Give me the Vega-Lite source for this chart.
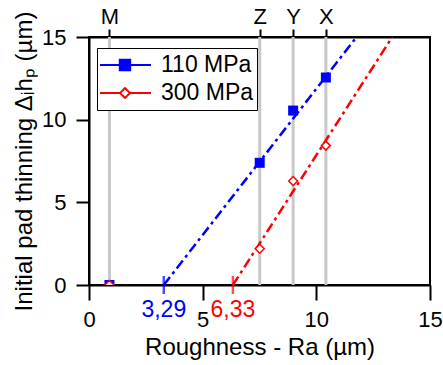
{
  "$schema": "https://vega.github.io/schema/vega-lite/v6.json",
  "width": 341,
  "height": 248,
  "autosize": {"type": "none"},
  "padding": {"left": 89, "top": 37, "right": 13, "bottom": 80},
  "background": "white",
  "config": {
    "font": "Liberation Sans",
    "view": {"stroke": "black", "strokeWidth": 2},
    "axis": {
      "grid": false,
      "domainColor": "black",
      "domainWidth": 2,
      "tickColor": "black",
      "tickWidth": 2,
      "labelColor": "black",
      "titleColor": "black",
      "labelFont": "Liberation Sans",
      "titleFont": "Liberation Sans",
      "labelFontSize": 22,
      "titleFontSize": 24,
      "titleFontWeight": "normal",
      "labelFlush": false,
      "labelOverlap": false
    }
  },
  "datasets": {
    "samples": [
      {"sample": "M", "x": 0.9},
      {"sample": "Z", "x": 7.51},
      {"sample": "Y", "x": 8.98},
      {"sample": "X", "x": 10.42}
    ],
    "lines": [
      {"series": "110 MPa", "x": 3.29, "y": 0},
      {"series": "110 MPa", "x": 11.77, "y": 15},
      {"series": "300 MPa", "x": 6.33, "y": 0},
      {"series": "300 MPa", "x": 13.34, "y": 15}
    ],
    "points": [
      {"series": "110 MPa", "x": 0.9, "y": 0},
      {"series": "110 MPa", "x": 7.51, "y": 7.39},
      {"series": "110 MPa", "x": 8.98, "y": 10.55},
      {"series": "110 MPa", "x": 10.42, "y": 12.55},
      {"series": "300 MPa", "x": 0.9, "y": 0},
      {"series": "300 MPa", "x": 7.51, "y": 2.19},
      {"series": "300 MPa", "x": 8.98, "y": 6.29},
      {"series": "300 MPa", "x": 10.42, "y": 8.43}
    ],
    "markers": [
      {"series": "110 MPa", "x": 3.29, "label": "3,29"},
      {"series": "300 MPa", "x": 6.33, "label": "6,33"}
    ]
  },
  "layer": [
    {
      "data": {"name": "samples"},
      "mark": {"type": "rule", "color": "#c8c8c8", "strokeWidth": 3},
      "encoding": {
        "x": {
          "field": "x",
          "type": "quantitative",
          "scale": {"domain": [0, 15], "nice": false},
          "axis": {
            "orient": "top",
            "values": [0.9, 7.51, 8.98, 10.42],
            "labelExpr": "datum.value == 0.9 ? 'M' : datum.value == 7.51 ? 'Z' : datum.value == 8.98 ? 'Y' : 'X'",
            "tickSize": 8,
            "labelPadding": 6,
            "labelFontSize": 22,
            "labelBaseline": "alphabetic",
            "title": null
          }
        }
      }
    },
    {
      "data": {"name": "lines"},
      "mark": {"type": "line", "strokeWidth": 2.5, "strokeDash": [10, 4, 3, 4], "clip": true},
      "encoding": {
        "x": {
          "field": "x",
          "type": "quantitative",
          "scale": {"domain": [0, 15], "nice": false},
          "axis": {
            "values": [0, 5, 10, 15],
            "tickSize": 15,
            "labelPadding": 26,
            "labelFontSize": 22,
            "labelBaseline": "alphabetic",
            "title": "Roughness - Ra (µm)",
            "titleY": 69,
            "titleBaseline": "alphabetic"
          }
        },
        "y": {
          "field": "y",
          "type": "quantitative",
          "scale": {"domain": [0, 15], "nice": false},
          "axis": {
            "values": [0, 5, 10, 15],
            "tickSize": 13,
            "labelPadding": 10,
            "labelFontSize": 22,
            "title": "Initial pad thinning Δᵢhₚ (µm)",
            "titleX": -58,
            "titleBaseline": "alphabetic"
          }
        },
        "color": {
          "field": "series",
          "type": "nominal",
          "scale": {"domain": ["110 MPa", "300 MPa"], "range": ["#0000ff", "#ff0000"]},
          "legend": {
            "orient": "none",
            "legendX": 8,
            "legendY": 11,
            "title": null,
            "padding": 3,
            "rowPadding": 0,
            "clipHeight": 28,
            "symbolSize": 2704,
            "symbolOffset": -2,
            "labelOffset": 9,
            "labelFontSize": 23,
            "labelFont": "Liberation Sans",
            "labelColor": "black",
            "strokeColor": "black",
            "fillColor": "white",
            "encode": {
              "symbols": {
                "update": {
                  "shape": {"signal": "datum.value == '110 MPa' ? 'M-1,0H1M-0.2,-0.2H0.2V0.2H-0.2Z' : 'M-1,0H-0.19M-0.19,0L0,-0.19L0.19,0L0,0.19ZM0.19,0H1'"},
                  "fill": {"signal": "datum.value == '110 MPa' ? '#0000ff' : '#ffffff'"},
                  "stroke": {"signal": "datum.value == '110 MPa' ? '#0000ff' : '#ff0000'"},
                  "strokeWidth": {"value": 2},
                  "strokeDash": {"value": [1, 0]},
                  "opacity": {"value": 1}
                }
              }
            }
          }
        }
      }
    },
    {
      "data": {"name": "points"},
      "transform": [{"filter": "datum.series == '110 MPa'"}],
      "mark": {"type": "point", "shape": "square", "filled": true, "color": "#0000ff", "size": 100, "opacity": 1, "clip": true},
      "encoding": {
        "x": {"field": "x", "type": "quantitative", "axis": null},
        "y": {"field": "y", "type": "quantitative", "axis": null}
      }
    },
    {
      "data": {"name": "points"},
      "transform": [{"filter": "datum.series == '300 MPa'"}],
      "mark": {"type": "point", "shape": "diamond", "filled": true, "fill": "#ffffff", "stroke": "#ff0000", "strokeWidth": 1.5, "size": 80, "opacity": 1, "clip": true},
      "encoding": {
        "x": {"field": "x", "type": "quantitative", "axis": null},
        "y": {"field": "y", "type": "quantitative", "axis": null}
      }
    },
    {
      "data": {"name": "markers"},
      "mark": {"type": "tick", "orient": "vertical", "size": 18, "thickness": 2.5},
      "encoding": {
        "x": {"field": "x", "type": "quantitative", "axis": null},
        "y": {"datum": 0, "type": "quantitative", "axis": null},
        "color": {"condition": {"test": "datum.series == '110 MPa'", "value": "#0000ff"}, "value": "#ff0000"}
      }
    },
    {
      "data": {"name": "markers"},
      "mark": {"type": "text", "dy": 32, "baseline": "alphabetic", "align": "center", "fontSize": 23, "font": "Liberation Sans"},
      "encoding": {
        "x": {"field": "x", "type": "quantitative", "axis": null},
        "y": {"datum": 0, "type": "quantitative", "axis": null},
        "text": {"field": "label"},
        "color": {"condition": {"test": "datum.series == '110 MPa'", "value": "#0000ff"}, "value": "#ff0000"}
      }
    }
  ],
  "resolve": {"axis": {"x": "independent", "y": "independent"}}
}
